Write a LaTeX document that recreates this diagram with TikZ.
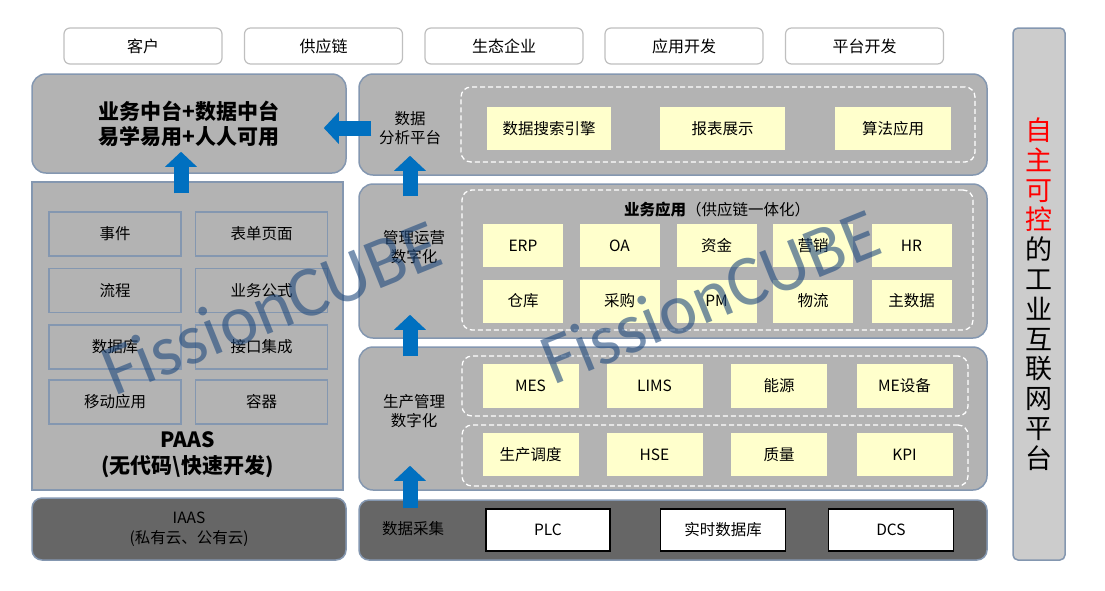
\documentclass[tikz,border=0pt]{standalone}
\usepackage{fontspec}
\setmainfont{Noto Sans CJK SC}
\newfontfamily\wmfont{Carlito}
\definecolor{PanelGray}{RGB}{179,179,179}
\definecolor{PanelEdge}{RGB}{132,151,176}
\definecolor{DarkPanel}{RGB}{102,102,102}
\definecolor{SideGray}{RGB}{204,204,204}
\definecolor{CellYellow}{RGB}{255,255,204}
\definecolor{TabEdge}{RGB}{191,191,191}
\definecolor{FlowBlue}{RGB}{0,112,192}
\definecolor{MarkBlue}{RGB}{31,73,125}
\usetikzlibrary{arrows.meta}

\begin{document}
\begin{tikzpicture}[x=1pt, y=-1pt,
        tab/.style={rectangle, draw=TabEdge, fill=white, rounded corners=6pt, line width=1.2pt,
                    minimum width=158pt, minimum height=36pt, font=\fontsize{16}{19}\selectfont},
        panel/.style={rectangle, draw=PanelEdge, fill=PanelGray, rounded corners=14pt, line width=1.5pt},
        darkpanel/.style={panel, fill=DarkPanel, rounded corners=10pt},
        zone/.style={rectangle, draw=white, dash pattern=on 5pt off 3pt, line width=1.3pt, rounded corners=10pt},
        cell/.style={rectangle, fill=CellYellow, minimum height=43pt, font=\fontsize{15.5}{18}\selectfont},
        tile/.style={rectangle, draw=PanelEdge, line width=1.5pt, minimum width=132pt, minimum height=44pt,
                     font=\fontsize{15.5}{18}\selectfont},
        plcbox/.style={rectangle, draw=black, fill=white, line width=1.5pt, minimum width=125pt,
                       minimum height=42pt, font=\fontsize{15.5}{18}\selectfont},
        tag/.style={align=center, font=\fontsize{15.5}{19}\selectfont},
        flow/.style={FlowBlue, line width=15pt, -{Triangle[length=15pt,width=31pt]}},
        wmark/.style={MarkBlue, opacity=0.6, rotate=22, font=\wmfont\fontsize{72}{72}\selectfont}
      ]
        \useasboundingbox (0,0) rectangle (1105,590);

        \node[tab] (cust) at (143,46)   {客户};
        \node[tab] (supp) at (323.5,46) {供应链};
        \node[tab] (eco)  at (504,46)   {生态企业};
        \node[tab] (appd) at (684,46)   {应用开发};
        \node[tab] (plat) at (864.5,46) {平台开发};

        \node[panel, minimum width=314pt, minimum height=99pt, align=center,
              font=\fontsize{21}{25}\bfseries] (mid) at (189,123.5) {业务中台+数据中台\\易学易用+人人可用};
        \node[panel, rounded corners=0pt, minimum width=311pt, minimum height=308pt] (paas) at (187.5,336) {};
        \node[darkpanel, minimum width=314pt, minimum height=62pt, align=center,
              font=\fontsize{15.5}{20}\selectfont] (iaas) at (189,529) {IAAS\\(私有云、公有云)};

        \node[tile] (evt)  at (115,234)   {事件};
        \node[tile] (form) at (261.5,234) {表单页面};
        \node[tile] (proc) at (115,290.5) {流程};
        \node[tile] (rule) at (261.5,290.5) {业务公式};
        \node[tile] (db)   at (115,347)   {数据库};
        \node[tile] (intf) at (261.5,347) {接口集成};
        \node[tile] (mob)  at (115,402)   {移动应用};
        \node[tile] (cont) at (261.5,402) {容器};
        \node[align=center, font=\fontsize{21}{26}\bfseries] (paastxt) at (187.5,455) {PAAS\\(无代码\textbackslash 快速开发)};

        \node[panel, minimum width=628pt, minimum height=101pt] (ana)  at (673,124.5) {};
        \node[panel, minimum width=628pt, minimum height=154pt] (ops)  at (673,261) {};
        \node[panel, minimum width=628pt, minimum height=143pt] (prod) at (673,418.5) {};
        \node[darkpanel, minimum width=628pt, minimum height=60pt] (acq) at (673,530) {};

        \node[tag] (anatxt)  at (410,128) {数据\\分析平台};
        \node[tag] (opstxt)  at (414,247) {管理运营\\数字化};
        \node[tag] (prodtxt) at (414,411) {生产管理\\数字化};
        \node[tag] (acqtxt)  at (413,529) {数据采集};

        \node[zone, minimum width=514pt, minimum height=75pt]  (anazone)  at (718,124.5) {};
        \node[zone, minimum width=511pt, minimum height=140pt] (opszone)  at (717.5,260) {};
        \node[zone, minimum width=506pt, minimum height=60pt]  (prodzone) at (715,386) {};
        \node[zone, minimum width=506pt, minimum height=61pt]  (kpizone)  at (715,455.5) {};

        \node[cell, minimum width=124pt] (search) at (549,128.5)   {数据搜索引擎};
        \node[cell, minimum width=125pt] (report) at (722.5,128.5) {报表展示};
        \node[cell, minimum width=116pt] (algo)   at (893,128.5)   {算法应用};

        \node[font=\fontsize{15.5}{18}\selectfont] (opstitle) at (717,210) {{\bfseries 业务应用}（供应链一体化）};
        \node[cell, minimum width=80pt] (erp)  at (523,245.5)   {ERP};
        \node[cell, minimum width=80pt] (oa)   at (619.5,245.5) {OA};
        \node[cell, minimum width=80pt] (fund) at (716.5,245.5) {资金};
        \node[cell, minimum width=80pt] (mkt)  at (813,245.5)   {营销};
        \node[cell, minimum width=80pt] (hr)   at (911.5,245.5) {HR};
        \node[cell, minimum width=80pt] (ware) at (523,301)     {仓库};
        \node[cell, minimum width=80pt] (buy)  at (619.5,301)   {采购};
        \node[cell, minimum width=80pt] (pm)   at (716.5,301)   {PM};
        \node[cell, minimum width=80pt] (logi) at (813,301)     {物流};
        \node[cell, minimum width=80pt] (mdm)  at (911.5,301)   {主数据};

        \node[cell, minimum width=96pt, minimum height=44pt] (mes)   at (530.5,386) {MES};
        \node[cell, minimum width=96pt, minimum height=44pt] (lims)  at (654.5,386) {LIMS};
        \node[cell, minimum width=96pt, minimum height=44pt] (enrg)  at (779,386)   {能源};
        \node[cell, minimum width=96pt, minimum height=44pt] (equip) at (904.5,386) {ME设备};
        \node[cell, minimum width=96pt] (sched) at (530.5,454.5) {生产调度};
        \node[cell, minimum width=96pt] (hse)   at (654.5,454.5) {HSE};
        \node[cell, minimum width=96pt] (qual)  at (779,454.5)   {质量};
        \node[cell, minimum width=96pt] (kpi)   at (904.5,454.5) {KPI};

        \node[plcbox, minimum width=124pt] (plc)  at (548,530) {PLC};
        \node[plcbox] (rtdb) at (723,530) {实时数据库};
        \node[plcbox] (dcs)  at (891,530) {DCS};

        \node[rectangle, draw=PanelEdge, fill=SideGray, rounded corners=5pt, line width=1.5pt,
              minimum width=52pt, minimum height=532pt] (side) at (1039,294) {};
        \node[align=center, font=\fontsize{27}{29.8}\selectfont] (sidetxt) at (side.center)
             {\textcolor{red}{自}\\\textcolor{red}{主}\\\textcolor{red}{可}\\\textcolor{red}{控}\\的\\工\\业\\互\\联\\网\\平\\台};

        \draw[flow] ([xshift=13pt]ana.west |- anatxt) -- ([xshift=-23pt]mid.east |- anatxt);
        \draw[flow] ([shift={(-6.5,12)}]paas.north) -- ([shift={(-8,-22)}]mid.south);
        \draw[flow] ([yshift=-13pt]anatxt |- ops.north) -- ([yshift=20pt]anatxt |- ana.south);
        \draw[flow] ([yshift=-10pt]anatxt |- prod.north) -- ([yshift=24pt]anatxt |- ops.south);
        \draw[flow] ([yshift=-9pt]anatxt |- acq.north) -- ([yshift=25pt]anatxt |- prod.south);

        \node[wmark] (wm1) at (271,307) {FissionCUBE};
        \node[wmark] (wm2) at (710,296) {FissionCUBE};
      \end{tikzpicture}
\end{document}
